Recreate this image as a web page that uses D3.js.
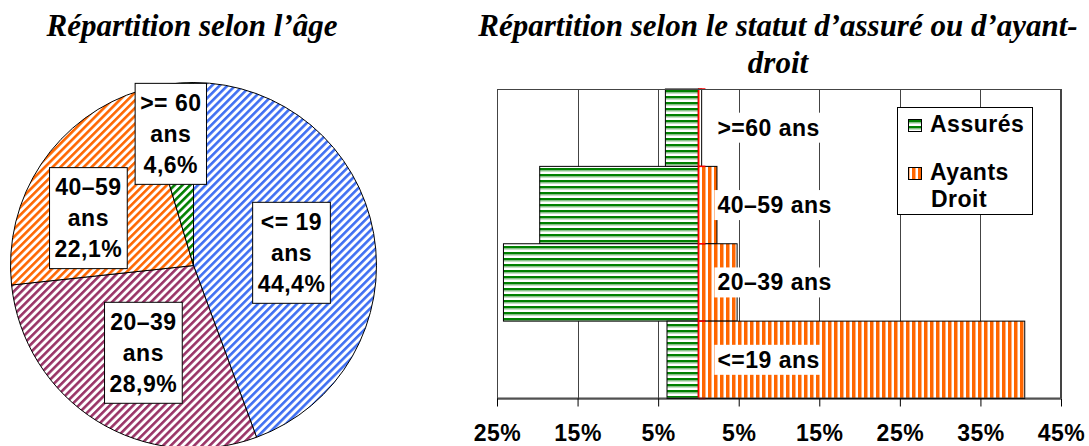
<!DOCTYPE html>
<html><head><meta charset="utf-8">
<script src="https://cdn.jsdelivr.net/npm/d3@7/dist/d3.min.js"></script>
<style>
html,body{margin:0;padding:0;background:#fff;}
svg{display:block;}
</style></head>
<body>
<svg id="c" width="1089" height="446"></svg>
<script>
// ---- data ----
const pieCategories = ["<= 19", "20–39", "40–59", ">= 60"];
const pieValues = [44.4, 28.9, 22.1, 4.6];
const pieValueLabels = ["44,4%", "28,9%", "22,1%", "4,6%"];
const pieColors = ["#3f6ff2", "#993366", "#ff6600", "#008000"];
const pieLabelRadius = [0.54, 0.55, 0.63, 0.73];
const pieLabelAngleShift = [2.7, -2, -9.4, -1.5];

const barCategories = [">=60 ans", "40–59 ans", "20–39 ans", "<=19 ans"];
const assures = [4.1, 19.7, 24.2, 3.9];
const ayants = [0.4, 2.3, 4.8, 40.5];
const xTicks = [-25, -15, -5, 5, 15, 25, 35, 45];
const seriesNames = ["Assurés", "Ayants Droit"];

const svg = d3.select("#c");
const defs = svg.append("defs");
const sans = "'Liberation Sans', Arial, sans-serif";
const serif = "'Liberation Serif', 'Times New Roman', serif";
const LS = 0.5;

// patterns for pie
pieColors.forEach((c, i) => {
  const p = defs.append("pattern").attr("id", "pp" + i)
    .attr("patternUnits", "userSpaceOnUse").attr("width", 5.5).attr("height", 5.5)
    .attr("patternTransform", "rotate(45)");
  p.append("rect").attr("width", 5.5).attr("height", 5.5).attr("fill", "#fff");
  p.append("rect").attr("width", 2.6).attr("height", 5.5).attr("fill", c);
});
// bar patterns
const pg = defs.append("pattern").attr("id", "pgreen").attr("patternUnits", "userSpaceOnUse")
  .attr("width", 6).attr("height", 6);
pg.append("rect").attr("width", 6).attr("height", 6).attr("fill", "#fff");
pg.append("rect").attr("width", 6).attr("height", 2.5).attr("fill", "#008000");
pg.append("rect").attr("y", 2.5).attr("width", 6).attr("height", 1).attr("fill", "#8cc48c");
const po = defs.append("pattern").attr("id", "porange").attr("patternUnits", "userSpaceOnUse")
  .attr("width", 6).attr("height", 6);
po.append("rect").attr("width", 6).attr("height", 6).attr("fill", "#fff");
po.append("rect").attr("width", 3).attr("height", 6).attr("fill", "#ff6600");
po.append("rect").attr("x", 3).attr("width", 1).attr("height", 6).attr("fill", "#ffb27f");

// ---- titles ----
svg.append("text").attr("x", 192).attr("y", 36).attr("text-anchor", "middle")
  .attr("font-family", serif).attr("font-weight", "bold").attr("font-style", "italic")
  .attr("font-size", 31).text("Répartition selon l’âge");
const t2 = svg.append("text").attr("text-anchor", "middle")
  .attr("font-family", serif).attr("font-weight", "bold").attr("font-style", "italic")
  .attr("font-size", 31);
t2.append("tspan").attr("x", 778).attr("y", 36).text("Répartition selon le statut d’assuré ou d’ayant-");
t2.append("tspan").attr("x", 778).attr("y", 73).text("droit");

// ---- pie ----
const cx = 193.5, cy = 265.5, R = 183;
const pie = d3.pie().sort(null).value(d => d)(pieValues);
const arc = d3.arc().innerRadius(0).outerRadius(R);
const pg0 = svg.append("g").attr("transform", `translate(${cx},${cy})`);
pg0.selectAll("path").data(pie).join("path")
  .attr("d", arc).attr("fill", (d, i) => `url(#pp${i})`)
  .attr("stroke", "#000").attr("stroke-width", 1);

const lineH = 31, fs = 23;
pie.forEach((d, i) => {
  const a = (d.startAngle + d.endAngle) / 2 + pieLabelAngleShift[i] * Math.PI / 180;
  const r = R * pieLabelRadius[i];
  const lx = Math.sin(a) * r, ly = -Math.cos(a) * r;
  const g = pg0.append("g").attr("transform", `translate(${lx},${ly})`);
  const rect = g.append("rect").attr("fill", "#fff").attr("stroke", "#000").attr("stroke-width", 1);
  const txt = g.append("text").attr("text-anchor", "middle").attr("font-family", sans)
    .attr("font-weight", "bold").attr("font-size", fs).attr("letter-spacing", LS);
  [pieCategories[i], "ans", pieValueLabels[i]].forEach((s, k) => {
    txt.append("tspan").attr("x", 0).attr("y", (k - 1) * lineH + 8).text(s);
  });
  const bb = txt.node().getBBox();
  const w = bb.width + 10, h = 3 * lineH + 8;
  rect.attr("x", -w / 2).attr("y", -h / 2).attr("width", w).attr("height", h);
});

// ---- bar chart ----
const pLeft = 497, pRight = 1061, pTop = 89, pBottom = 398.5;
const x = d3.scaleLinear().domain([-25, 45]).range([pLeft, pRight]);
const y = d3.scaleBand().domain(barCategories).range([pTop, pBottom]).padding(0);
const bc = svg.append("g");

bc.append("rect").attr("x", pLeft).attr("y", pTop).attr("width", pRight - pLeft).attr("height", pBottom - pTop)
  .attr("fill", "#fff");
// gridlines
bc.append("g").selectAll("line").data(xTicks).join("line")
  .attr("x1", d => Math.round(x(d)) + 0.5).attr("x2", d => Math.round(x(d)) + 0.5)
  .attr("y1", pTop).attr("y2", pBottom).attr("stroke", "#444").attr("stroke-width", 1);

// bars
bc.append("g").selectAll("rect").data(barCategories).join("rect")
  .attr("x", (d, i) => x(-assures[i])).attr("y", d => y(d))
  .attr("width", (d, i) => x(0) - x(-assures[i])).attr("height", y.bandwidth())
  .attr("fill", "url(#pgreen)").attr("stroke", "#000").attr("stroke-width", 1);
bc.append("g").selectAll("rect").data(barCategories).join("rect")
  .attr("x", x(0)).attr("y", d => y(d))
  .attr("width", (d, i) => x(ayants[i]) - x(0)).attr("height", y.bandwidth())
  .attr("fill", "url(#porange)").attr("stroke", "#000").attr("stroke-width", 1);

// red category axis at zero
const x0 = x(0);
bc.append("line").attr("x1", x0).attr("x2", x0).attr("y1", pTop).attr("y2", pBottom)
  .attr("stroke", "#ff0000").attr("stroke-width", 1.5);
const bounds = barCategories.map(d => y(d)).concat([pBottom]);
bc.append("g").selectAll("line").data(bounds).join("line")
  .attr("x1", x0).attr("x2", x0 + 7).attr("y1", d => d).attr("y2", d => d)
  .attr("stroke", "#ff0000").attr("stroke-width", 1.5);

// plot border
bc.append("rect").attr("x", pLeft + 0.5).attr("y", pTop + 0.5).attr("width", pRight - pLeft - 1)
  .attr("height", pBottom - pTop - 1).attr("fill", "none").attr("stroke", "#444");

// category labels
barCategories.forEach((d, i) => {
  const g = bc.append("g");
  const rect = g.append("rect").attr("fill", "#fff");
  const t = g.append("text").attr("x", x0 + 19).attr("y", y(d) + y.bandwidth() / 2 + 8)
    .attr("font-family", sans).attr("font-weight", "bold").attr("font-size", fs)
    .attr("letter-spacing", LS).text(d);
  const bb = t.node().getBBox();
  rect.attr("x", bb.x - 3).attr("y", y(d) + y.bandwidth() / 2 - 15).attr("width", bb.width + 5).attr("height", 30);
});

// x axis
const xAxis = d3.axisBottom(x).tickValues(xTicks).tickSize(8).tickPadding(18)
  .tickFormat(d => Math.abs(d) + "%");
const ax = svg.append("g").attr("transform", `translate(0,${pBottom})`).call(xAxis);
ax.select(".domain").attr("stroke", "#000").attr("d", `M${pLeft},0.5H${pRight}`);
ax.selectAll(".tick line").attr("stroke", "#000");
ax.selectAll(".tick text").attr("font-family", sans).attr("font-weight", "bold")
  .attr("font-size", fs).attr("letter-spacing", LS).attr("fill", "#000");

// legend
const lg = svg.append("g");
lg.append("rect").attr("x", 897.5).attr("y", 107.5).attr("width", 135).attr("height", 107)
  .attr("fill", "#fff").attr("stroke", "#000");
lg.append("rect").attr("x", 908.5).attr("y", 119.5).attr("width", 13).attr("height", 12)
  .attr("fill", "url(#pgreen)").attr("stroke", "#000");
lg.append("rect").attr("x", 908.5).attr("y", 167.5).attr("width", 13).attr("height", 12)
  .attr("fill", "url(#porange)").attr("stroke", "#000");
lg.append("text").attr("x", 930).attr("y", 132).attr("font-family", sans).attr("font-weight", "bold")
  .attr("font-size", fs).attr("letter-spacing", LS).text(seriesNames[0]);
const lt = lg.append("text").attr("font-family", sans).attr("font-weight", "bold")
  .attr("font-size", fs).attr("letter-spacing", LS);
lt.append("tspan").attr("x", 930).attr("y", 180).text(seriesNames[1].split(" ")[0]);
lt.append("tspan").attr("x", 931).attr("y", 207).text(seriesNames[1].split(" ")[1]);
</script>
</body></html>
